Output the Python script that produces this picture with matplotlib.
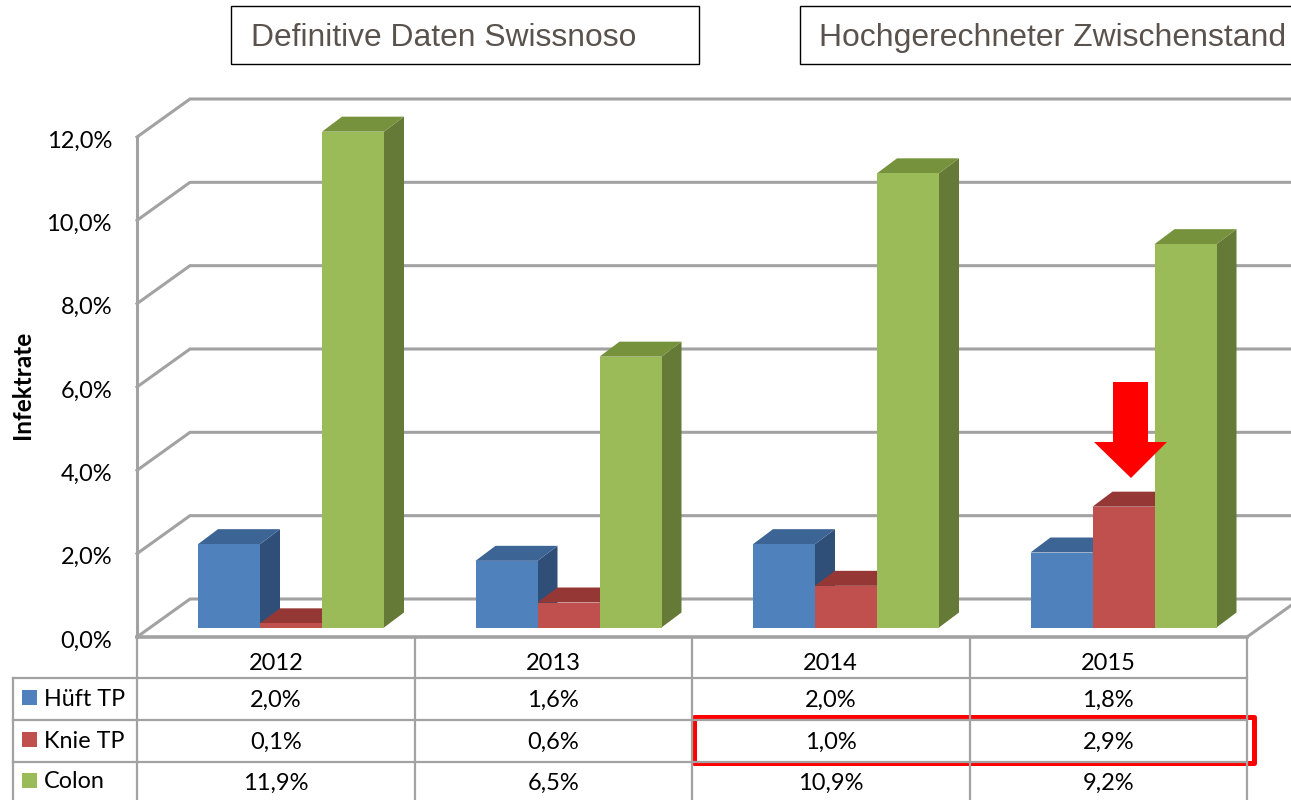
import matplotlib
matplotlib.use('Agg')
import matplotlib.pyplot as plt
from matplotlib.patches import Polygon, Rectangle
from matplotlib.transforms import ScaledTranslation

# Datos
years = ['2012', '2013', '2014', '2015']
series = ['Hüft TP', 'Knie TP', 'Colon']
hueft = [2.0, 1.6, 2.0, 1.8]
knie = [0.1, 0.6, 1.0, 2.9]
colon = [11.9, 6.5, 10.9, 9.2]
y_ticks = [0, 2, 4, 6, 8, 10, 12]

front_colors = ['#4f81bd', '#c0504d', '#9bbb59']
top_colors = ['#3c6494', '#953735', '#76923c']
side_colors = ['#2f4f78', '#7f3230', '#647a36']
grid_color = '#a2a2a2'

W, H = 1291, 800
plt.rcParams['font.family'] = ['Lato', 'DejaVu Sans']


def pct(v):
    return f'{v:.1f}%'.replace('.', ',')


fig = plt.figure(figsize=(W / 100, H / 100), dpi=100)

# Hauptachse: 0-4 Kategorien, 0-12 %
ax = fig.add_axes([137 / W, 1 - 637 / H, 1110 / W, 500 / H])
ax.set_xlim(0, 4)
ax.set_ylim(0, 12)
for s in ax.spines.values():
    s.set_visible(False)
ax.patch.set_visible(False)
ax.set_xticks([])
ax.set_yticks(y_ticks)
ax.set_yticklabels([pct(t) for t in y_ticks], fontsize=17, color='black')
ax.tick_params(axis='y', length=0, pad=18)
for lab in ax.get_yticklabels():
    lab.set_transform(lab.get_transform() + ScaledTranslation(0, -2 / 100, fig.dpi_scale_trans))

ux = 4 / 1110  # Daten pro Pixel
uy = 12 / 500

# Waende und Gitter
wall_x, wall_y = 53 * ux, 38 * uy
for t in y_ticks:
    ax.plot([0, wall_x, 4 + wall_x + 0.02], [t, t + wall_y, t + wall_y], color=grid_color,
            lw=2.2, clip_on=False, solid_joinstyle='miter', zorder=1)
ax.plot([4, 4 + wall_x], [0, wall_y], color=grid_color, lw=2.2, clip_on=False, zorder=1)
ax.plot([0, 4], [0, 0], color=grid_color, lw=2.6, clip_on=False, zorder=1)
ax.plot([0, 0], [0, 12], color=grid_color, lw=2.2, clip_on=False, zorder=1)

# Balken
bar_w = 62 * ux
group_start = 61 * ux
base = 9.5 * uy
dx, dy = 20 * ux, 15 * uy
z = 2
for i in range(len(years)):
    for j, vals in enumerate([hueft, knie, colon]):
        x0 = i + group_start + j * bar_w
        x1 = x0 + bar_w
        top = base + vals[i]
        ax.add_patch(Polygon([(x1, base), (x1 + dx, base + dy), (x1 + dx, top + dy), (x1, top)],
                             fc=side_colors[j], ec='none', clip_on=False, zorder=z))
        ax.add_patch(Polygon([(x0, top), (x0 + dx, top + dy), (x1 + dx, top + dy), (x1, top)],
                             fc=top_colors[j], ec='none', clip_on=False, zorder=z))
        ax.add_patch(Rectangle((x0, base), bar_w, vals[i], fc=front_colors[j], ec='none',
                               clip_on=False, zorder=z))
        z += 1

# Overlay in Pixeln: Tabelle, Boxen, Pfeil
ov = fig.add_axes([0, 0, 1, 1])
ov.set_xlim(0, W)
ov.set_ylim(H, 0)
ov.axis('off')
ov.patch.set_visible(False)

col_x = [137 + 277.5 * i for i in range(5)]
row_y = [678, 720, 762]
for x in col_x:
    ov.plot([x, x], [637, 800], color=grid_color, lw=1.6)
ov.plot([13, 13], [678, 800], color=grid_color, lw=1.6)
for y in row_y:
    ov.plot([13, col_x[-1]], [y, y], color=grid_color, lw=1.6)

for i, y in enumerate(years):
    ov.text(col_x[i] + 138.75, 663.5, y, ha='center', va='center', fontsize=17)
row_c = [698, 740, 781]
for r, (name, vals) in enumerate(zip(series, [hueft, knie, colon])):
    ov.add_patch(Rectangle((22, row_c[r] - 8), 15, 15, fc=front_colors[r], ec='none'))
    ov.text(44, row_c[r] + 1, name, ha='left', va='center', fontsize=16.8)
    for i, v in enumerate(vals):
        ov.text(col_x[i] + 138.75, row_c[r] + 2.5, pct(v), ha='center', va='center', fontsize=17)

ov.text(23, 385, 'Infektrate', rotation=90, ha='center', va='center', fontsize=17.5, fontweight='bold')

# Titelboxen
title_font = ['Liberation Sans', 'DejaVu Sans']
ov.add_patch(Rectangle((231, 6), 468, 58, fc='white', ec='black', lw=1.0))
ov.add_patch(Rectangle((800, 6), 495, 58, fc='white', ec='black', lw=1.0, clip_on=True))
ov.text(251, 38, 'Definitive Daten Swissnoso', ha='left', va='center', fontsize=22.9,
        color='#5a524c', family=title_font)
ov.text(819, 38, 'Hochgerechneter Zwischenstand', ha='left', va='center', fontsize=22.95,
        color='#5a524c', family=title_font)

# Markierung
ov.add_patch(Rectangle((694, 717), 560, 46, fc='none', ec='#ff0000', lw=3.6, joinstyle='round'))
ov.add_patch(Polygon([(1113, 382), (1148, 382), (1148, 442), (1167, 442), (1131, 478),
                      (1094, 442), (1113, 442)], fc='#ff0000', ec='none'))

fig.savefig('out.png', dpi=100)
